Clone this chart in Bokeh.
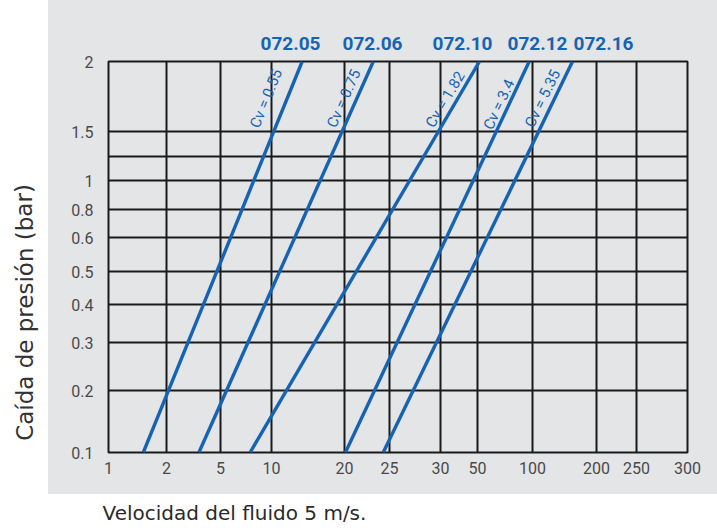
import math
import numpy as np
from bokeh.plotting import figure
from bokeh.models import Range1d, FixedTicker
from bokeh.layouts import row, column
from bokeh.embed import file_html
from bokeh.resources import INLINE
from bokeh.core.properties import value

# ---------------- data ----------------
x_tick_values = [1, 2, 5, 10, 20, 25, 30, 50, 100, 200, 250, 300]
x_tick_labels = ["1", "2", "5", "10", "20", "25", "30", "50", "100", "200", "250", "300"]
y_tick_values = [0.1, 0.2, 0.3, 0.4, 0.5, 0.6, 0.8, 1.0, 1.25, 1.5, 2.0]
y_tick_labels = ["0.1", "0.2", "0.3", "0.4", "0.5", "0.6", "0.8", "1", "", "1.5", "2"]

series_names = ["072.05", "072.06", "072.10", "072.12", "072.16"]
cv_values = ["0.55", "0.75", "1.82", "3.4", "5.35"]
drop_min = 0.1   # bar
drop_max = 2.0   # bar
velocity_at_drop_min = [1.6, 3.8, 7.9, 20.1, 24.3]
velocity_at_drop_max = [14.2, 23.2, 51.8, 97.0, 162.5]

# ---------------- layout of the printed (non-uniform) scale ----------------
x_grid_pos = [0, 58, 112, 163, 236, 281, 332, 369, 424, 488, 528, 579]
y_grid_pos = [0, 62, 110, 148, 181, 215, 243, 272, 296, 321, 391]
name_label_pos = [182, 264, 354, 429, 495]
cv_label_level = [354, 354, 353, 348, 354]
cv_label_shift = [-21, -13, -12, -10, -12]

FW, FH = 579, 391
ML, MR = 60, 30          # frame margins inside the grey panel
PW = ML + FW + MR        # grey panel width
TOP_H = 53               # strip holding the series names
TOP_B = 8                # border above the frame
BOT = 42
BLUE = "#1763b3"
GRAY = "#e4e5e7"
NARROW = "Roboto"
TITLE_FONT = "DejaVu Sans"


def xs(v):
    return float(np.interp(v, x_tick_values, x_grid_pos))


def ys(v):
    return float(np.interp(v, y_tick_values, y_grid_pos))


xr = Range1d(0, FW)

# ---- strip with the series names ----
top = figure(width=PW, height=TOP_H, output_backend="svg", toolbar_location=None,
             x_range=xr, y_range=Range1d(0, TOP_H),
             min_border_left=ML, min_border_right=MR, min_border_top=0, min_border_bottom=0)
top.axis.visible = False
top.grid.visible = False
top.outline_line_color = None
top.background_fill_color = GRAY
top.border_fill_color = GRAY
top.text(x=name_label_pos, y=[TOP_H - 42.5] * len(series_names), text=series_names,
         text_align="center", text_baseline="middle", text_font=value(NARROW),
         text_font_size="19px", text_font_style="bold", text_color=BLUE)

# ---- main chart ----
p = figure(width=PW, height=TOP_B + FH + BOT, output_backend="svg",
           toolbar_location=None, x_range=xr, y_range=Range1d(0, FH),
           min_border_left=ML, min_border_right=MR, min_border_top=TOP_B,
           min_border_bottom=BOT)
p.background_fill_color = GRAY
p.border_fill_color = GRAY
p.outline_line_color = "#1a1a1a"
p.outline_line_width = 2

xt = [xs(v) for v in x_tick_values]
yt = [ys(v) for v in y_tick_values]
p.xaxis.ticker = FixedTicker(ticks=xt)
p.yaxis.ticker = FixedTicker(ticks=yt)
p.xaxis.major_label_overrides = {t: l for t, l in zip(xt, x_tick_labels)}
p.yaxis.major_label_overrides = {t: l for t, l in zip(yt, y_tick_labels)}
for ax in (p.xaxis, p.yaxis):
    ax.axis_line_color = None
    ax.major_tick_line_color = None
    ax.minor_tick_line_color = None
    ax.major_label_text_font = NARROW
    ax.major_label_text_font_size = "16px"
    ax.major_label_text_color = "#4a4a4a"
p.xaxis.major_label_standoff = 3
p.yaxis.major_label_standoff = 9

p.xgrid.ticker = FixedTicker(ticks=xt)
p.ygrid.ticker = FixedTicker(ticks=yt)
p.grid.grid_line_color = "#1a1a1a"
p.grid.grid_line_width = 2
p.grid.grid_line_alpha = 1

lx, ly = [], []
tx, ty, ta, tt, to = [], [], [], [], []
for i in range(len(series_names)):
    x0, x1 = xs(velocity_at_drop_min[i]), xs(velocity_at_drop_max[i])
    y0, y1 = ys(drop_min), ys(drop_max)
    lx.append([x0, x1])
    ly.append([y0, y1])
    lev = cv_label_level[i]
    tx.append(x0 + (x1 - x0) * (lev - y0) / (y1 - y0))
    ty.append(lev)
    ta.append(math.atan2(y1 - y0, x1 - x0))
    tt.append("Cv = " + cv_values[i])
    to.append(cv_label_shift[i])

p.multi_line(xs=lx, ys=ly, line_color=BLUE, line_width=3.4)
p.text(x=tx, y=ty, text=tt, angle=ta, x_offset=to, text_align="center",
       text_baseline="middle", text_font=value(NARROW), text_font_size="15px",
       text_color=BLUE)

panel = column(top, p, spacing=0, styles={"background-color": GRAY})
PH = TOP_H + TOP_B + FH + BOT

# ---- y title ----
yfig = figure(width=48, height=PH, output_backend="svg", toolbar_location=None,
              x_range=Range1d(0, 48), y_range=Range1d(0, PH), min_border=0)
yfig.axis.visible = False
yfig.grid.visible = False
yfig.outline_line_color = None
yfig.text(x=[24], y=[PH - 312], text=["Caída de presión (bar)"], angle=[math.pi / 2],
          text_align="center", text_baseline="middle", text_font=value(TITLE_FONT),
          text_font_size="23px", text_color="#333333")

# ---- x title ----
XH = 34
xfig = figure(width=48 + PW, height=XH, output_backend="svg", toolbar_location=None,
              x_range=Range1d(0, 48 + PW), y_range=Range1d(0, XH), min_border=0)
xfig.axis.visible = False
xfig.grid.visible = False
xfig.outline_line_color = None
xfig.text(x=[102], y=[XH / 2 - 1], text=["Velocidad del fluido 5 m/s."], text_align="left",
          text_baseline="middle", text_font=value(TITLE_FONT), text_font_size="20px",
          text_color="#2a2a2a")

layout = column(row(yfig, panel, spacing=0), xfig, spacing=0)
open("out.html", "w").write(file_html(layout, INLINE))
